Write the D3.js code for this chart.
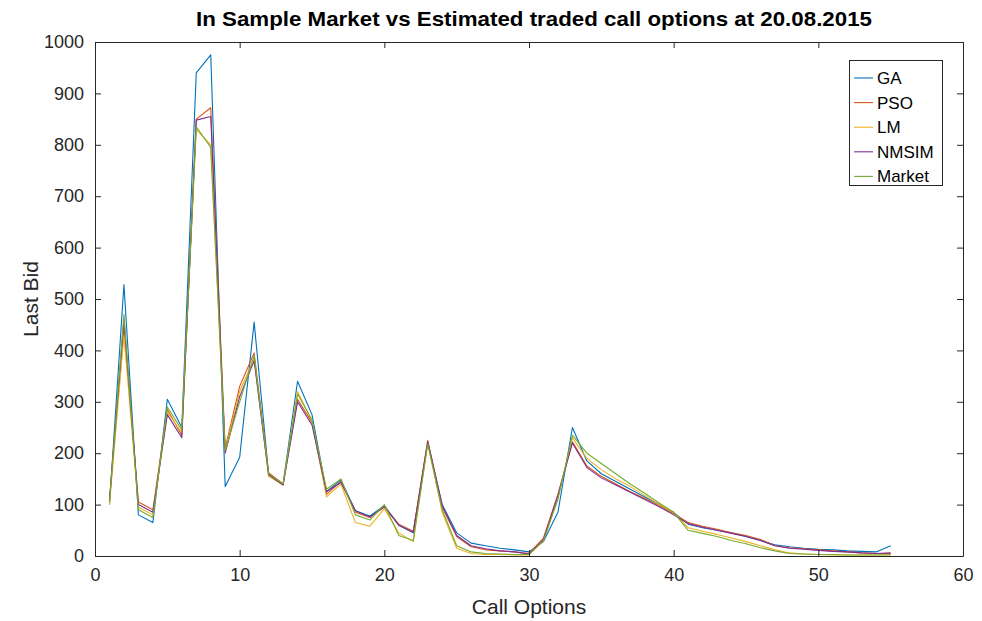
<!DOCTYPE html>
<html>
<head>
<meta charset="utf-8">
<script src="https://cdn.jsdelivr.net/npm/d3@7"></script>
<style>
  html, body { margin: 0; padding: 0; background: #fff; }
  svg { display: block; font-family: "Liberation Sans", Arial, Helvetica, sans-serif; }
</style>
</head>
<body>
<svg id="chart" width="982" height="621"></svg>
<script>
// Call option index (1..55)
const optionIndex = d3.range(1, 56);

// Last bid per option, by estimation method
const gaValues = [100, 528, 80, 65, 305, 250, 940, 975, 135, 192, 455, 160, 140, 340, 275, 125, 148, 88, 78, 98, 60, 45, 222, 100, 45, 25, 20, 15, 12, 8, 28, 85, 250, 185, 160, 145, 130, 115, 100, 85, 62, 55, 50, 45, 38, 30, 22, 18, 15, 13, 12, 10, 9, 8, 20];
const psoValues = [105, 445, 105, 90, 285, 235, 850, 872, 210, 330, 395, 162, 140, 305, 260, 120, 145, 85, 75, 95, 62, 48, 225, 95, 38, 18, 12, 10, 8, 5, 35, 120, 222, 175, 155, 140, 125, 112, 98, 82, 65, 58, 52, 45, 40, 32, 20, 16, 14, 12, 10, 8, 6, 5, 5];
const lmValues = [100, 430, 95, 80, 280, 240, 830, 800, 205, 320, 385, 155, 138, 320, 262, 115, 140, 65, 58, 92, 45, 28, 220, 85, 15, 5, 3, 3, 2, 2, 30, 115, 230, 190, 168, 150, 135, 118, 100, 85, 55, 48, 42, 35, 28, 20, 12, 6, 4, 3, 2, 2, 2, 2, 3];
const nmsimValues = [110, 460, 100, 85, 275, 230, 848, 855, 200, 310, 380, 158, 138, 300, 255, 125, 143, 88, 76, 96, 60, 46, 222, 98, 40, 20, 14, 10, 8, 4, 32, 118, 220, 172, 152, 138, 124, 110, 96, 80, 63, 56, 50, 44, 38, 30, 20, 15, 13, 11, 9, 8, 6, 5, 6];
const marketValues = [105, 470, 90, 75, 290, 245, 835, 795, 205, 300, 390, 160, 140, 315, 265, 130, 150, 80, 70, 100, 40, 30, 218, 90, 20, 8, 5, 4, 3, 3, 30, 110, 235, 200, 180, 160, 140, 122, 103, 85, 50, 44, 38, 30, 24, 16, 10, 5, 4, 3, 3, 2, 2, 2, 2];

const seriesNames = ["GA", "PSO", "LM", "NMSIM", "Market"];
const seriesColors = ["#0072BD", "#D95319", "#EDB120", "#7E2F8E", "#77AC30"];
const seriesValues = [gaValues, psoValues, lmValues, nmsimValues, marketValues];

const xTicks = [0, 10, 20, 30, 40, 50, 60];
const yTicks = [0, 100, 200, 300, 400, 500, 600, 700, 800, 900, 1000];

const titleText = "In Sample Market vs Estimated traded call options at 20.08.2015";
const xLabel = "Call Options";
const yLabel = "Last Bid";

const plot = { left: 95, top: 42, right: 963, bottom: 556 };
const axisColor = "#262626";

const svg = d3.select("#chart");

const x = d3.scaleLinear().domain([0, 60]).range([plot.left, plot.right]);
const y = d3.scaleLinear().domain([0, 1000]).range([plot.bottom, plot.top]);

// Series lines, clipped to the axes box
svg.append("clipPath").attr("id", "plotClip")
  .append("rect")
  .attr("x", plot.left).attr("y", plot.top)
  .attr("width", plot.right - plot.left).attr("height", plot.bottom - plot.top);

const line = d3.line().x((d, i) => x(optionIndex[i])).y(d => y(d));

const lines = svg.append("g").attr("clip-path", "url(#plotClip)");
seriesValues.forEach((vals, k) => {
  lines.append("path")
    .datum(vals)
    .attr("d", line)
    .attr("fill", "none")
    .attr("stroke", seriesColors[k])
    .attr("stroke-width", 1.1)
    .attr("stroke-linejoin", "round");
});

// Axes: bottom/left with labels, top/right with inward ticks only
const tickLen = 6;
const xAxisBottom = d3.axisBottom(x).tickValues(xTicks).tickSizeInner(-tickLen).tickSizeOuter(0).tickPadding(12).tickFormat(d3.format("d"));
const xAxisTop = d3.axisTop(x).tickValues(xTicks).tickSizeInner(-tickLen).tickSizeOuter(0).tickFormat("");
const yAxisLeft = d3.axisLeft(y).tickValues(yTicks).tickSizeInner(-tickLen).tickSizeOuter(0).tickPadding(11).tickFormat(d3.format("d"));
const yAxisRight = d3.axisRight(y).tickValues(yTicks).tickSizeInner(-tickLen).tickSizeOuter(0).tickFormat("");

function styleAxis(g) {
  g.selectAll("path").attr("stroke", axisColor).attr("stroke-width", 1);
  g.selectAll("line").attr("stroke", axisColor).attr("stroke-width", 1);
  g.selectAll("text").attr("fill", axisColor).style("font-size", "18px").style("font-family", "\"Liberation Sans\", Arial, sans-serif");
}

svg.append("g").attr("transform", `translate(0,${plot.bottom})`).call(xAxisBottom).call(styleAxis);
svg.append("g").attr("transform", `translate(0,${plot.top})`).call(xAxisTop).call(styleAxis);
svg.append("g").attr("transform", `translate(${plot.left},0)`).call(yAxisLeft).call(styleAxis);
svg.append("g").attr("transform", `translate(${plot.right},0)`).call(yAxisRight).call(styleAxis);

// Title and axis labels
svg.append("text")
  .attr("x", 534).attr("y", 26)
  .attr("text-anchor", "middle")
  .attr("fill", "#000")
  .style("font-size", "21px").style("font-weight", "bold")
  .attr("textLength", 676).attr("lengthAdjust", "spacingAndGlyphs")
  .text(titleText);

svg.append("text")
  .attr("x", (plot.left + plot.right) / 2).attr("y", 614)
  .attr("text-anchor", "middle")
  .attr("fill", axisColor)
  .style("font-size", "21px")
  .text(xLabel);

svg.append("text")
  .attr("transform", `translate(38,${(plot.top + plot.bottom) / 2}) rotate(-90)`)
  .attr("text-anchor", "middle")
  .attr("fill", axisColor)
  .style("font-size", "21px")
  .text(yLabel);

// Legend
const legend = { left: 849, top: 60, width: 93, height: 125, rowH: 24.6, firstRow: 78 };
const lg = svg.append("g");
lg.append("rect")
  .attr("x", legend.left + 0.5).attr("y", legend.top + 0.5)
  .attr("width", legend.width).attr("height", legend.height)
  .attr("fill", "#fff").attr("stroke", axisColor).attr("stroke-width", 1);
seriesNames.forEach((name, k) => {
  const yy = legend.firstRow + k * legend.rowH;
  lg.append("line")
    .attr("x1", legend.left + 5).attr("x2", legend.left + 24)
    .attr("y1", yy).attr("y2", yy)
    .attr("stroke", seriesColors[k]).attr("stroke-width", 1.1);
  lg.append("text")
    .attr("x", legend.left + 28).attr("y", yy)
    .attr("dy", "0.35em")
    .attr("fill", "#000")
    .style("font-size", "17px")
    .text(name);
});
</script>
</body>
</html>
